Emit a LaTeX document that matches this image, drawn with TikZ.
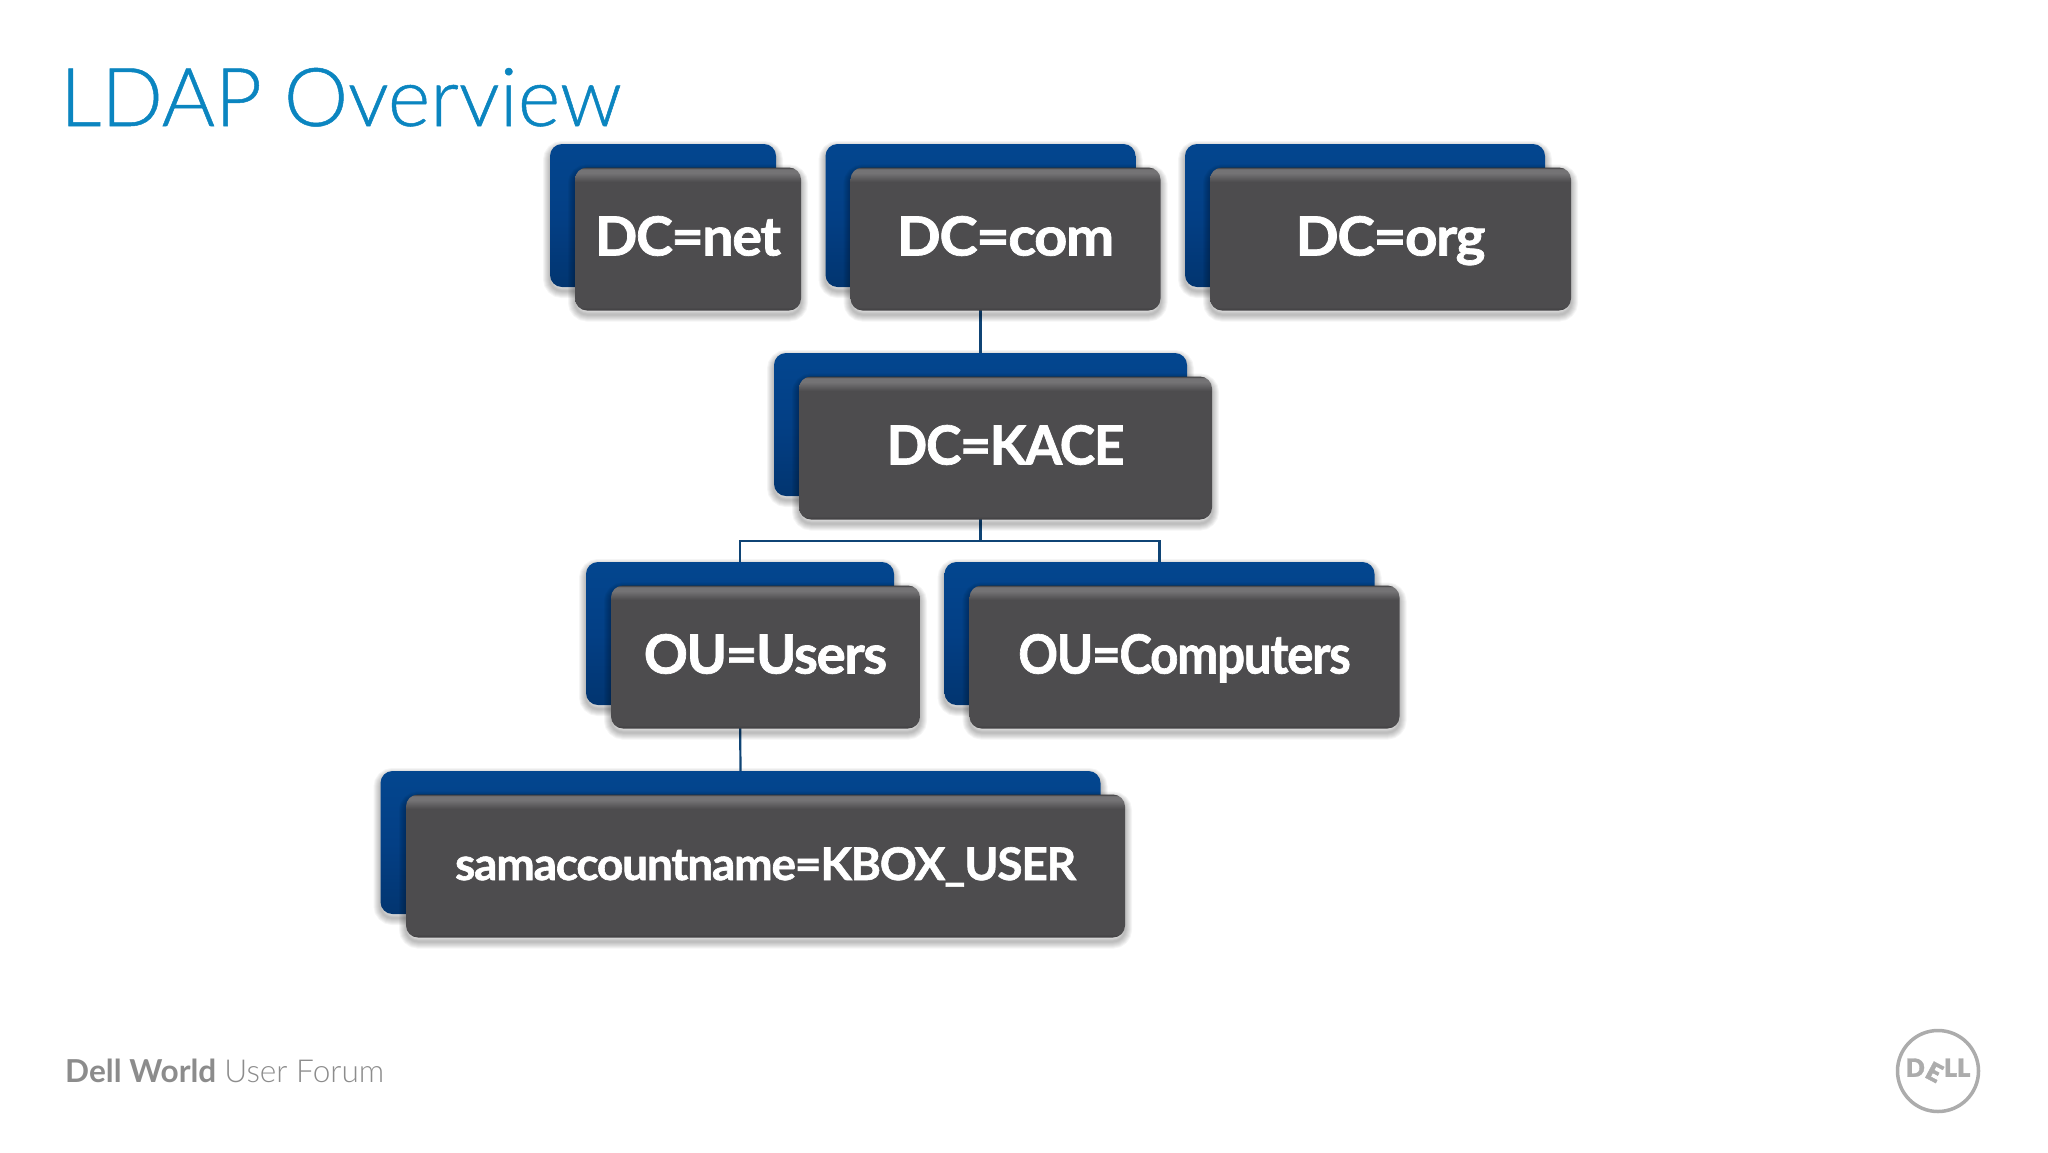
\documentclass[tikz,border=0pt]{standalone}
\usepackage{fontspec}
\setmainfont{Lato}
\newfontfamily\lightfont{Lato Light}
\newfontfamily\titlefont[FakeBold=0.6]{Lato Light}
\newfontfamily\boxfont[LetterSpace=-2.5,FakeBold=1.3]{Lato Bold}
\newfontfamily\logofont[FakeBold=1.5]{Lato Black}
\newcommand{\wide}[2]{\scalebox{#1}[1]{#2}}
\definecolor{titleblue}{HTML}{0B85C0}
\definecolor{linkblue}{HTML}{0F4475}
\definecolor{footgrey}{HTML}{8C8C8C}
\definecolor{logogrey}{HTML}{ACACAC}
\definecolor{bluetop}{HTML}{03468F}
\definecolor{bluemid}{HTML}{033F85}
\definecolor{bluelow}{HTML}{023570}
\definecolor{greyface}{HTML}{4D4C4E}
\definecolor{greylight}{HTML}{747375}
\definecolor{greyedge}{HTML}{3F3E40}
\pgfdeclareverticalshading{greybevel}{100bp}{
  color(0bp)=(greyedge);
  color(25bp)=(greyedge);
  color(26.2bp)=(greyface);
  color(70bp)=(greyface);
  color(73bp)=(greylight);
  color(74.4bp)=(greylight);
  color(75bp)=(greyedge);
  color(100bp)=(greyedge)}
\pgfdeclareverticalshading{bluefade}{100bp}{
  color(0bp)=(bluelow);
  color(25bp)=(bluelow);
  color(50bp)=(bluemid);
  color(75bp)=(bluetop);
  color(100bp)=(bluetop)}
\tikzset{
  x=1pt,y=-1pt,
  shadowring/.style={preaction={draw=black,draw opacity=.04,line width=#1,transform canvas={yshift=-4pt}}},
  softshadow/.style={shadowring=14pt,shadowring=12pt,shadowring=10pt,shadowring=8pt,
    shadowring=6pt,shadowring=4pt,shadowring=2pt},
  backbox/.style={rectangle,rounded corners=12pt,inner sep=0pt,outer sep=0pt,
    minimum height=143pt,softshadow,shading=bluefade},
  frontbox/.style={rectangle,rounded corners=12pt,inner sep=0pt,outer sep=0pt,
    minimum height=143pt,softshadow,shading=greybevel,
    text=white,font=\boxfont\fontsize{54}{60}\selectfont,text height=33pt,text depth=0pt},
  link/.style={draw=linkblue,line width=2.2pt},
  titletext/.style={inner sep=0pt,text=titleblue,font=\titlefont\fontsize{81.2}{90}\selectfont},
  foottext/.style={inner sep=0pt,text=footgrey,font=\fontsize{31.6}{36}\selectfont}
}
\begin{document}
\begin{tikzpicture}
\useasboundingbox[fill=white] (0,0) rectangle (2048,1152);
\node[titletext,anchor=base west] (title) at (60,126) {LDAP Overview};
% back plates
\node[backbox,minimum width=226pt] (netb) at (663,215.5) {};
\node[backbox,minimum width=310pt] (comb) at (980.5,215.5) {};
\node[backbox,minimum width=360pt] (orgb) at (1365,215.5) {};
\node[backbox,minimum width=413pt] (kaceb) at (980.5,424.5) {};
\node[backbox,minimum width=308pt] (usersb) at (740,633.5) {};
\node[backbox,minimum width=430pt] (compb) at (1159.5,633.5) {};
\node[backbox,minimum width=720pt] (samb) at (740.5,842.5) {};
% connectors
\coordinate (bus) at (980.5,540.7);
\draw[link] (comb.south) -- (kaceb.north);
\draw[link] (kaceb.south) -- (bus);
\draw[link] (usersb.north) |- (bus) -| (compb.north);
\draw[link] (usersb.south) -- (samb.north);
% front plates
\node[frontbox,minimum width=226pt] (net) at (688,239) {\wide{1.03}{DC=net}};
\node[frontbox,minimum width=310pt] (com) at (1005.5,239) {\wide{1.07}{DC=com}};
\node[frontbox,minimum width=361pt] (org) at (1390.5,239) {\wide{1.05}{DC=org}};
\node[frontbox,minimum width=413pt] (kace) at (1005.5,448) {\wide{0.99}{DC=KACE}};
\node[frontbox,minimum width=309pt] (users) at (765.5,657) {\wide{1.01}{OU=Users}};
\node[frontbox,minimum width=430pt] (comp) at (1184.5,657) {\wide{0.91}{OU=Computers}};
\node[frontbox,minimum width=719pt,font=\boxfont\fontsize{45}{50}\selectfont,text height=28pt] (sam) at (765.5,866) {\wide{1.02}{samaccountname=KBOX\_USER}};
% footer
\node[foottext,anchor=base west] (foot) at (65,1082) {\textbf{Dell World} {\lightfont User Forum}};
% logo
\node[circle,draw=logogrey,line width=3.5pt,minimum size=81pt,inner sep=0pt,text=logogrey,
  font=\logofont\fontsize{25}{27}\selectfont] (logo) at (1938,1071) {D\kern-1pt\rotatebox{-28}{E}\kern-1pt LL};
\end{tikzpicture}
\end{document}
